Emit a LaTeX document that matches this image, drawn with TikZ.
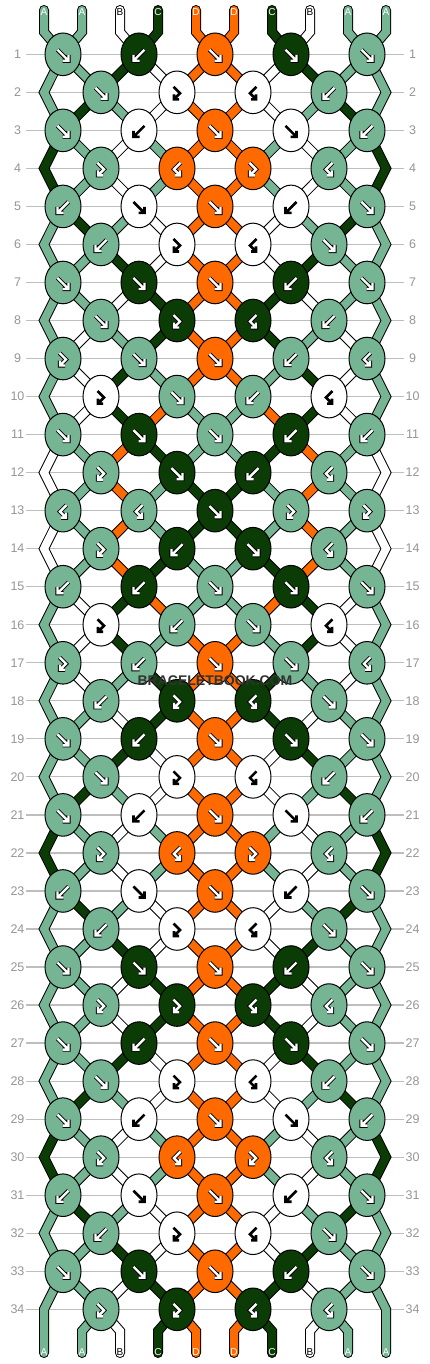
\documentclass[tikz,border=0pt]{standalone}
\usepackage{fontspec}
\setmainfont{Liberation Sans}
\definecolor{cA}{RGB}{118,181,148}
\definecolor{cB}{RGB}{255,255,255}
\definecolor{cC}{RGB}{11,60,6}
\definecolor{cD}{RGB}{255,106,0}
\definecolor{gridgray}{RGB}{190,190,190}
\definecolor{numgray}{RGB}{150,150,150}
\definecolor{markgray}{RGB}{50,50,50}
\makeatletter
\def\strcol#1{\csname SC#1\endcsname}
\@namedef{SC1}{cA}\@namedef{SC2}{cA}\@namedef{SC3}{cB}\@namedef{SC4}{cC}\@namedef{SC5}{cD}
\@namedef{SC6}{cD}\@namedef{SC7}{cC}\@namedef{SC8}{cB}\@namedef{SC9}{cA}\@namedef{SC10}{cA}
\def\strlab#1{\ifcase#1\or A\or A\or B\or C\or D\or D\or C\or B\or A\or A\fi}
\def\labcol#1{\ifcase#1\or white\or white\or black\or white\or white\or white\or white\or black\or white\or white\fi}
% knot types: 1=f 2=b 3=fb 4=bf
\@namedef{RT1}{1,2,1,1,1}
\@namedef{RT2}{1,3,4,2}
\@namedef{RT3}{1,2,1,1,2}
\@namedef{RT4}{3,4,3,4}
\@namedef{RT5}{2,1,1,2,1}
\@namedef{RT6}{2,3,4,1}
\@namedef{RT7}{1,1,1,2,1}
\@namedef{RT8}{1,3,4,2}
\@namedef{RT9}{3,1,1,2,4}
\@namedef{RT10}{3,1,2,4}
\@namedef{RT11}{1,1,1,2,2}
\@namedef{RT12}{3,1,2,4}
\@namedef{RT13}{4,4,1,3,3}
\@namedef{RT14}{3,2,1,4}
\@namedef{RT15}{2,2,1,1,1}
\@namedef{RT16}{3,2,1,4}
\@namedef{RT17}{3,2,1,1,4}
\@namedef{RT18}{2,3,4,1}
\@namedef{RT19}{1,2,1,1,1}
\@namedef{RT20}{1,3,4,2}
\@namedef{RT21}{1,2,1,1,2}
\@namedef{RT22}{3,4,3,4}
\@namedef{RT23}{2,1,1,2,1}
\@namedef{RT24}{2,3,4,1}
\@namedef{RT25}{1,1,1,2,1}
\@namedef{RT26}{3,3,4,4}
\@namedef{RT27}{1,2,1,1,1}
\@namedef{RT28}{1,3,4,2}
\@namedef{RT29}{1,2,1,1,2}
\@namedef{RT30}{3,4,3,4}
\@namedef{RT31}{2,1,1,2,1}
\@namedef{RT32}{2,3,4,1}
\@namedef{RT33}{1,1,1,2,1}
\@namedef{RT34}{3,3,4,4}
\makeatother
\newcommand\addpt[3]{\expandafter\xdef\csname SP#1\endcsname{\csname SP#1\endcsname -- (#2,#3)}}
\def\whitename{cB}
\def\arrowshape#1{\ifcase#1\or
 (-5.5,-4.5) -- (5.5,6.5) (5.5,0.5) -- (5.5,6.5) -- (-0.5,6.5)\or
 (5.5,-4.5) -- (-5.5,6.5) (-5.5,0.5) -- (-5.5,6.5) -- (0.5,6.5)\or
 (-3.5,-5.5) -- (3,1) -- (-3,7) (-3,2) -- (-3,7) -- (2,7)\or
 (3.5,-5.5) -- (-3,1) -- (3,7) (3,2) -- (3,7) -- (-2,7)\fi}
\newcommand\drawknot[4]{%
  \begin{scope}[shift={(#1,#2)}]
  \filldraw[fill=#3,draw=black,line width=1] (0,0) ellipse [x radius=18,y radius=21.3];
  \def\kcoltmp{#3}%
  \ifx\kcoltmp\whitename
    \edef\tmpa{\noexpand\draw[black,line width=2.6,line join=miter] \arrowshape{#4};}\tmpa
  \else
    \edef\tmpa{\noexpand\draw[black,line width=4.2,line join=miter] \arrowshape{#4};}\tmpa
    \edef\tmpa{\noexpand\draw[white,line width=2.4,line join=miter] \arrowshape{#4};}\tmpa
  \fi
  \end{scope}}
\begin{document}
\begin{tikzpicture}[x=1pt,y=-1pt]
\fill[white] (0,0) rectangle (430,1364);
\useasboundingbox (0,0) rectangle (430,1364);
% ---- simulation ----
\gdef\knotlist{}
\foreach \ii in {1,...,10}{%
  \pgfmathsetmacro\xpos{44+38*(\ii-1)}%
  \expandafter\xdef\csname P\ii\endcsname{\ii}%
  \expandafter\xdef\csname SP\ii\endcsname{(\xpos,10) -- (\xpos,32)}%
}
\foreach \rw in {1,...,34}{%
  \pgfmathsetmacro\yr{54.3+38.03*(\rw-1)}%
  \edef\curlist{\csname RT\rw\endcsname}%
  \ifodd\rw
    \def\offs{0}\def\kxo{63}%
  \else
    \def\offs{1}\def\kxo{101}%
    \edef\sA{\csname P1\endcsname}\addpt{\sA}{44}{\yr}%
    \edef\sA{\csname P10\endcsname}\addpt{\sA}{386}{\yr}%
  \fi
  \foreach \kt [count=\kp] in \curlist {%
    \pgfmathtruncatemacro\posL{2*\kp-1+\offs}%
    \pgfmathtruncatemacro\posR{\posL+1}%
    \pgfmathsetmacro\kx{\kxo+76*(\kp-1)}%
    \edef\sL{\csname P\posL\endcsname}%
    \edef\sR{\csname P\posR\endcsname}%
    \addpt{\sL}{\kx}{\yr}%
    \addpt{\sR}{\kx}{\yr}%
    \ifnum\kt=1 \edef\kcol{\strcol{\sL}}\else\ifnum\kt=3 \edef\kcol{\strcol{\sL}}\else\edef\kcol{\strcol{\sR}}\fi\fi
    \xdef\knotlist{\unexpanded\expandafter{\knotlist}\noexpand\drawknot{\kx}{\yr}{\kcol}{\kt}}%
    \ifnum\kt<3
      \expandafter\xdef\csname P\posL\endcsname{\sR}%
      \expandafter\xdef\csname P\posR\endcsname{\sL}%
    \fi
  }%
}
\foreach \ii in {1,...,10}{%
  \pgfmathsetmacro\xpos{44+38*(\ii-1)}%
  \edef\sA{\csname P\ii\endcsname}%
  \addpt{\sA}{\xpos}{1331}\addpt{\sA}{\xpos}{1353}%
  \expandafter\xdef\csname BL\ii\endcsname{\sA}%
}
% ---- grid lines and row numbers ----
\foreach \rw in {1,...,34}{%
  \pgfmathsetmacro\yr{54.3+38.03*(\rw-1)}%
  \draw[gridgray,line width=1.2] (26,\yr) -- (404,\yr);
  \node[numgray,font=\fontsize{12.5}{13}\selectfont] (ln\rw) at (17.5,\yr) {\rw};
  \node[numgray,font=\fontsize{12.5}{13}\selectfont] (rn\rw) at (412.5,\yr) {\rw};
}
% ---- strings ----
\foreach \ii in {1,...,10}{%
  \edef\tmpa{\noexpand\draw[line width=10,black,line cap=round,line join=miter] \csname SP\ii\endcsname;}\tmpa
  \edef\tmpa{\noexpand\draw[line width=8,\strcol{\ii},line cap=round,line join=miter] \csname SP\ii\endcsname;}\tmpa
}
% ---- knots ----
\knotlist
% ---- letters ----
\foreach \ii in {1,...,10}{%
  \pgfmathsetmacro\xpos{44+38*(\ii-1)}%
  \node[text=\labcol{\ii},font=\fontsize{10}{10}\selectfont,inner sep=0] (top\ii) at (\xpos,12.5) {\strlab{\ii}};
  \edef\sA{\csname BL\ii\endcsname}%
  \node[text=\labcol{\sA},font=\fontsize{10}{10}\selectfont,inner sep=0] (bot\ii) at (\xpos,1352) {\strlab{\sA}};
}
\node[text=markgray,font=\fontsize{14}{14}\selectfont\bfseries,inner sep=0] (wm) at (215,681) {BRACELETBOOK.COM};
\end{tikzpicture}
\end{document}
